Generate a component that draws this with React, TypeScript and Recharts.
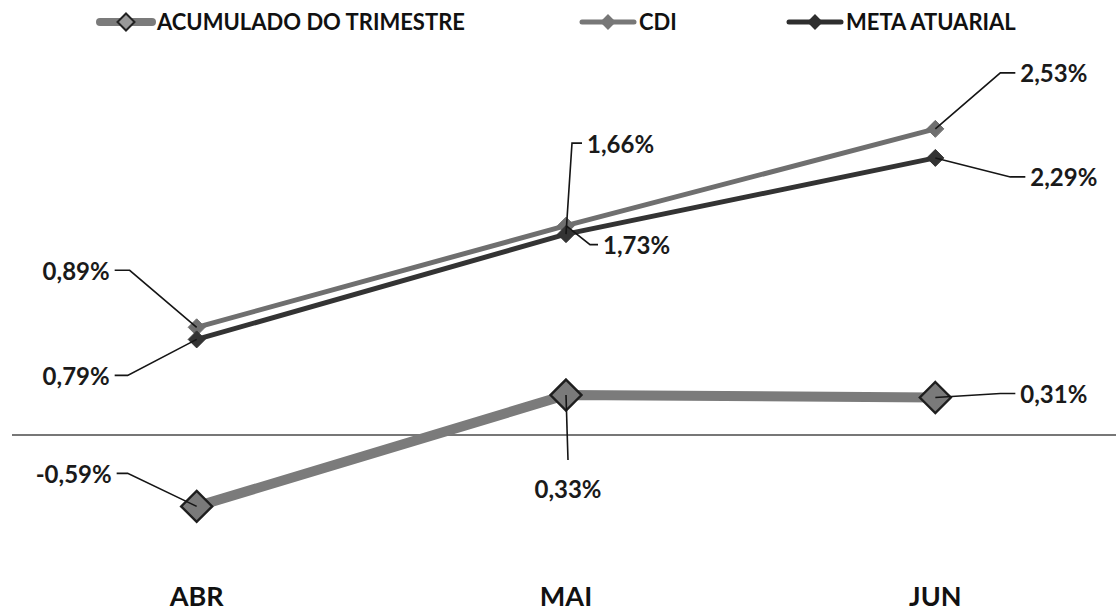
import { LineChart, Line, XAxis, YAxis, ReferenceLine, Legend, LabelList } from 'recharts';

const MONTHS = ['ABR', 'MAI', 'JUN'];
const ACUMULADO = [-0.59, 0.33, 0.31];
const CDI = [0.89, 1.73, 2.53];
const META = [0.79, 1.66, 2.29];

const data = MONTHS.map((m, i) => ({ month: m, acumulado: ACUMULADO[i], cdi: CDI[i], meta: META[i] }));

const FONT = 'Lato, "Open Sans", sans-serif';

// callout leader lines: elbow offset from the point, then a short horizontal run
const CALLOUTS: Record<string, { ex: number; ey: number; hx: number }[]> = {
  acumulado: [{ ex: -69, ey: -33, hx: -11 }, { ex: 2, ey: 65, hx: 0 }, { ex: 65, ey: -4, hx: 15 }],
  cdi: [{ ex: -67, ey: -57, hx: -15 }, { ex: 24, ey: 19, hx: 8 }, { ex: 65, ey: -56, hx: 15 }],
  meta: [{ ex: -69, ey: 36, hx: -13 }, { ex: 6, ey: -91, hx: 10 }, { ex: 75, ey: 19, hx: 15 }],
};

const fmt = (v: number) => v.toFixed(2).replace('.', ',') + '%';

const callout = (key: string) => (props: any) => {
  const { x, y, value, index } = props;
  const c = CALLOUTS[key][index];
  if (!c) return null;
  const ex = x + c.ex;
  const ey = y + c.ey;
  const hx = ex + c.hx;
  const anchor = c.hx > 0 ? 'start' : c.hx < 0 ? 'end' : 'middle';
  const tx = c.hx > 0 ? hx + 5 : c.hx < 0 ? hx - 5 : hx;
  const ty = c.hx === 0 ? ey + 28 : ey;
  return (
    <g>
      <polyline points={`${x},${y} ${ex},${ey} ${hx},${ey}`} fill="none" stroke="#151515" strokeWidth={1.6} />
      <text x={tx} y={ty} textAnchor={anchor} dominantBaseline="central" fontFamily={FONT} fontWeight={700} fontSize={24} fill="#1a1a1a">
        {fmt(value)}
      </text>
    </g>
  );
};

const diamond = (size: number, fill: string, stroke: string, sw: number) => (props: any) => {
  const { cx, cy, index } = props;
  const h = size / 2;
  return (
    <path key={`d-${index}`} d={`M${cx},${cy - h} L${cx + h},${cy} L${cx},${cy + h} L${cx - h},${cy} Z`} fill={fill} stroke={stroke} strokeWidth={sw} />
  );
};

const MonthTick = (props: any) => {
  const { x, y, payload } = props;
  return (
    <text x={x} y={y + 50} textAnchor="middle" fontFamily={FONT} fontWeight={700} fontSize={27} fill="#111">
      {payload.value}
    </text>
  );
};

const LegendIcon = ({ left, width, color, sw, dsize, dfill, dstroke }: any) => (
  <svg style={{ position: 'absolute', left, top: 9 }} width={width} height={26}>
    <line x1={4} y1={13} x2={width - 4} y2={13} stroke={color} strokeWidth={sw} strokeLinecap="round" />
    <path
      d={`M${width / 2},${13 - dsize / 2} L${width / 2 + dsize / 2},13 L${width / 2},${13 + dsize / 2} L${width / 2 - dsize / 2},13 Z`}
      fill={dfill}
      stroke={dstroke}
      strokeWidth={2}
    />
  </svg>
);

const legendText = { position: 'absolute' as const, top: 7, fontFamily: FONT, fontWeight: 700, fontSize: 22, color: '#111', lineHeight: '30px', whiteSpace: 'nowrap' as const };

const renderLegend = () => (
  <div style={{ position: 'relative', width: 1116, height: 72 }}>
    <LegendIcon left={96} width={60} color="#7b7b7b" sw={8} dsize={17} dfill="#9a9a9a" dstroke="#222" />
    <span style={{ ...legendText, left: 157 }}>ACUMULADO DO TRIMESTRE</span>
    <LegendIcon left={578} width={60} color="#777" sw={5} dsize={13} dfill="#777" dstroke="#777" />
    <span style={{ ...legendText, left: 639 }}>CDI</span>
    <LegendIcon left={785} width={60} color="#2e2e2e" sw={5} dsize={13} dfill="#2e2e2e" dstroke="#2e2e2e" />
    <span style={{ ...legendText, left: 846 }}>META ATUARIAL</span>
  </div>
);

export default function App() {
  return (
    <div style={{ position: 'absolute', left: 0, top: 0, width: 1116, height: 612, overflow: 'hidden', background: '#fff' }}>
      <LineChart width={1120} height={612} data={data} margin={{ top: 0, right: 0, bottom: 0, left: 12 }}>
        <Legend verticalAlign="top" content={renderLegend} wrapperStyle={{ top: 0, left: 0, width: 1116 }} />
        <XAxis dataKey="month" scale="band" axisLine={false} tickLine={false} tickSize={0} tickMargin={0} height={56} tick={<MonthTick />} interval={0} />
        <YAxis type="number" domain={[-1, 3]} hide />
        <ReferenceLine y={0} stroke="#4a4a4a" strokeWidth={1.5} />
        <Line
          dataKey="acumulado"
          stroke="#7b7b7b"
          strokeWidth={10}
          dot={diamond(31, '#7a7a7a', '#1e1e1e', 2.4)}
          activeDot={false}
          isAnimationActive={false}
        >
          <LabelList dataKey="acumulado" content={callout('acumulado')} />
        </Line>
        <Line
          dataKey="cdi"
          stroke="#6f6f6f"
          strokeWidth={5}
          dot={diamond(17, '#6f6f6f', '#6f6f6f', 1)}
          activeDot={false}
          isAnimationActive={false}
        >
          <LabelList dataKey="cdi" content={callout('cdi')} />
        </Line>
        <Line
          dataKey="meta"
          stroke="#333"
          strokeWidth={5}
          dot={diamond(17, '#333', '#333', 1)}
          activeDot={false}
          isAnimationActive={false}
        >
          <LabelList dataKey="meta" content={callout('meta')} />
        </Line>
      </LineChart>
    </div>
  );
}
